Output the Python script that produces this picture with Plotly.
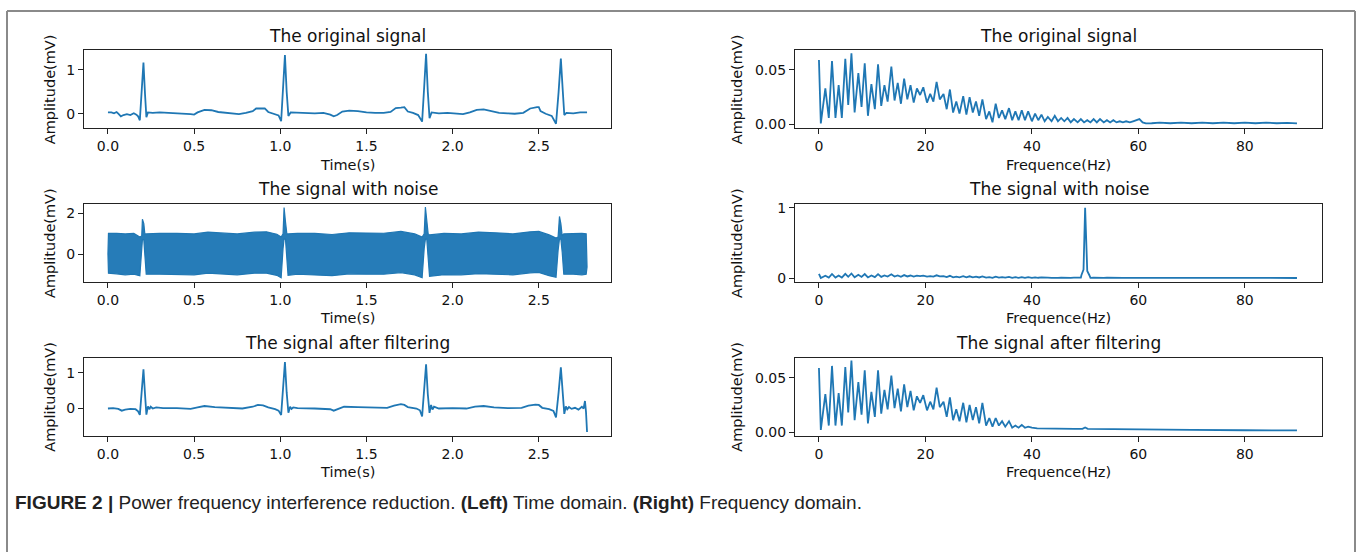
import plotly.graph_objects as go
import pandas as pd

W, H = 1362, 552
BLUE = "#1f77b4"
FONT = "DejaVu Sans"

# ---------------- time-domain data ----------------
orig_t = [0.000, 0.020, 0.035, 0.050, 0.060, 0.075, 0.090, 0.110, 0.130, 0.150, 0.165, 0.175, 0.185,
          0.195, 0.206, 0.215, 0.223, 0.232, 0.26, 0.30, 0.35, 0.40, 0.45, 0.48, 0.50, 0.52, 0.56,
          0.60, 0.64, 0.68, 0.72, 0.76, 0.80, 0.84, 0.86, 0.89, 0.91, 0.93, 0.96, 0.99, 1.005, 1.016,
          1.027, 1.037, 1.047, 1.06, 1.10, 1.15, 1.20, 1.25, 1.29, 1.31, 1.33, 1.36, 1.40, 1.45, 1.50,
          1.55, 1.60, 1.64, 1.67, 1.70, 1.72, 1.74, 1.77, 1.80, 1.823, 1.834, 1.846, 1.856, 1.866,
          1.878, 1.92, 1.97, 2.02, 2.06, 2.10, 2.14, 2.18, 2.22, 2.27, 2.32, 2.36, 2.41, 2.45, 2.49,
          2.50, 2.51, 2.54, 2.575, 2.600, 2.615, 2.628, 2.638, 2.648, 2.66, 2.70, 2.74, 2.78]
orig_v = [0.03, 0.03, 0.01, 0.04, 0.00, -0.06, -0.03, -0.01, -0.03, 0.01, -0.02, -0.06, -0.15,
          0.45, 1.17, 0.45, -0.08, 0.03, 0.02, 0.03, 0.02, 0.02, 0.01, -0.01, -0.02, 0.03, 0.09,
          0.08, 0.04, 0.02, 0.00, -0.01, 0.02, 0.06, 0.12, 0.11, 0.12, 0.04, 0.00, -0.04, -0.17, 0.55,
          1.34, 0.50, -0.05, 0.03, 0.02, 0.02, 0.01, 0.02, -0.02, -0.06, -0.03, 0.05, 0.07, 0.06, 0.03,
          0.02, 0.02, 0.04, 0.13, 0.14, 0.15, 0.05, 0.02, -0.03, -0.18, 0.55, 1.37, 0.50, -0.10,
          0.03, 0.01, 0.02, 0.00, -0.01, 0.03, 0.09, 0.10, 0.07, 0.02, 0.01, 0.00, 0.02, 0.12, 0.15,
          0.15, 0.06, 0.00, -0.05, -0.23, 0.50, 1.26, 0.60, -0.03, 0.02, 0.01, 0.03, 0.03]

filt_t = [0.00, 0.03, 0.06, 0.08, 0.10, 0.13, 0.16, 0.175, 0.185, 0.195, 0.206, 0.215, 0.223, 0.232,
          0.240, 0.248, 0.26, 0.28, 0.32, 0.40, 0.48, 0.52, 0.56, 0.62, 0.70, 0.78, 0.84, 0.87, 0.90,
          0.93, 0.97, 0.99, 1.005, 1.016, 1.027, 1.037, 1.047, 1.057, 1.065, 1.075, 1.10, 1.20, 1.29,
          1.31, 1.34, 1.37, 1.45, 1.55, 1.62, 1.66, 1.70, 1.72, 1.74, 1.79, 1.81, 1.823, 1.834, 1.846,
          1.856, 1.866, 1.875, 1.883, 1.892, 1.92, 2.00, 2.08, 2.13, 2.18, 2.24, 2.32, 2.40, 2.44,
          2.48, 2.50, 2.52, 2.56, 2.585, 2.600, 2.615, 2.628, 2.638, 2.648, 2.657, 2.665, 2.675, 2.69,
          2.71, 2.73, 2.75, 2.760, 2.768, 2.774, 2.780]
filt_v = [0.00, 0.01, -0.01, -0.06, -0.03, -0.01, -0.02, -0.08, -0.18, 0.35, 1.10, 0.40, -0.17, 0.06,
          -0.02, 0.05, 0.00, 0.03, 0.01, 0.01, -0.01, 0.03, 0.07, 0.04, 0.01, 0.00, 0.05, 0.10, 0.09,
          0.03, -0.02, -0.06, -0.18, 0.50, 1.30, 0.45, -0.12, 0.05, -0.01, 0.03, 0.01, 0.00, -0.02,
          -0.06, 0.00, 0.05, 0.04, 0.02, 0.02, 0.08, 0.12, 0.10, 0.04, 0.00, -0.05, -0.22, 0.50, 1.24,
          0.40, -0.12, 0.10, -0.03, 0.05, 0.00, 0.01, 0.00, 0.05, 0.07, 0.03, 0.01, 0.02, 0.08,
          0.11, 0.10, 0.02, -0.02, -0.07, -0.25, 0.45, 1.15, 0.50, -0.15, 0.06, -0.02, 0.04, -0.01,
          0.02, -0.03, 0.05, 0.00, 0.21, -0.10, -0.66]

# noisy signal: envelope of the dense 50 Hz oscillation band
noisy_t = [0.000, 0.003, 0.05, 0.10, 0.15, 0.185, 0.196, 0.200, 0.208, 0.214, 0.222, 0.30, 0.40, 0.50,
           0.58, 0.65, 0.75, 0.85, 0.92, 0.98, 1.005, 1.016, 1.022, 1.030, 1.038, 1.045, 1.10, 1.20,
           1.30, 1.40, 1.50, 1.60, 1.70, 1.78, 1.823, 1.835, 1.842, 1.850, 1.858, 1.866, 1.95, 2.05,
           2.15, 2.25, 2.35, 2.45, 2.50, 2.56, 2.60, 2.612, 2.620, 2.628, 2.636, 2.645, 2.70, 2.75,
           2.775, 2.78]
noisy_hi = [0.03, 1.02, 1.03, 1.00, 1.02, 0.85, 0.90, 1.71, 1.50, 1.00, 1.00, 1.03, 1.02, 1.00,
            1.08, 1.05, 1.00, 1.08, 1.10, 0.98, 0.85, 1.00, 2.27, 1.60, 1.00, 1.00, 1.02, 1.02,
            0.97, 1.05, 1.05, 1.03, 1.12, 1.00, 0.85, 1.00, 2.30, 1.60, 1.00, 0.95, 1.02, 1.00,
            1.08, 1.05, 1.00, 1.10, 1.12, 0.95, 0.80, 0.85, 1.84, 1.50, 0.90, 1.00, 1.02, 1.02,
            1.00, -0.60]
noisy_lo = [0.03, -0.90, -0.93, -0.98, -0.95, -1.02, 0.20, 0.72, 0.72, 0.10, -0.95, -0.95, -0.95, -0.98,
            -0.90, -0.95, -0.98, -0.90, -0.90, -1.00, -1.12, 0.30, 0.75, 0.75, 0.10, -1.00, -0.95, -0.97,
            -1.02, -0.93, -0.95, -0.95, -0.87, -0.98, -1.12, 0.30, 0.75, 0.75, 0.10, -1.05, -0.97, -0.98,
            -0.92, -0.95, -0.98, -0.88, -0.86, -1.02, -1.10, 0.20, 0.75, 0.75, 0.10, -0.95, -0.95, -0.98,
            -0.95, -0.60]

# ---------------- frequency-domain data ----------------
spec_f = [0.0, 0.35, 1.2, 1.85, 2.45, 3.1, 3.7, 4.3, 4.95, 5.5, 6.1, 6.7, 7.4, 8.0, 8.6, 9.2, 9.85,
          10.5, 11.1, 11.7, 12.3, 12.9, 13.6, 14.2, 14.8, 15.4, 16.0, 16.6, 17.2, 17.8, 18.4, 19.0,
          19.6, 20.3, 20.9, 21.5, 22.1, 22.7, 23.4, 24.0, 24.6, 25.2, 25.8, 26.4, 27.1, 27.7, 28.3,
          28.9, 29.5, 30.1, 30.7, 31.4, 32.0, 32.6, 33.2, 33.8, 34.4, 35.0, 35.7, 36.3, 36.9, 37.5,
          38.1, 38.7, 39.3, 40.0, 40.6, 41.2, 41.8, 42.4, 43.0, 43.7, 44.3, 44.9, 45.5, 46.1, 46.7,
          47.3, 47.9, 48.6, 49.2, 49.8, 50.4, 51.0, 51.6, 52.2, 52.8, 53.5, 54.1, 54.7, 55.3, 55.9,
          56.5, 57.1, 57.7, 58.4, 59.0, 59.6, 60.2, 60.8, 61.4, 62.5, 64.0, 66.0, 68.0, 70.0, 72.0,
          74.0, 76.0, 78.0, 80.0, 82.0, 84.0, 86.0, 88.0, 89.8]
spec_orig = [0.059, 0.001, 0.033, 0.006, 0.058, 0.006, 0.036, 0.006, 0.060, 0.018, 0.065, 0.011,
             0.047, 0.016, 0.056, 0.008, 0.037, 0.014, 0.055, 0.017, 0.036, 0.021, 0.053, 0.022,
             0.038, 0.019, 0.042, 0.023, 0.036, 0.020, 0.033, 0.027, 0.034, 0.020, 0.028, 0.021,
             0.039, 0.023, 0.028, 0.014, 0.032, 0.011, 0.021, 0.010, 0.026, 0.009, 0.025, 0.011,
             0.021, 0.008, 0.023, 0.005, 0.012, 0.002, 0.019, 0.006, 0.013, 0.005, 0.015, 0.004,
             0.012, 0.004, 0.013, 0.004, 0.012, 0.003, 0.010, 0.004, 0.009, 0.003, 0.007, 0.003,
             0.008, 0.003, 0.006, 0.003, 0.006, 0.002, 0.005, 0.002, 0.005, 0.002, 0.004, 0.002,
             0.005, 0.002, 0.005, 0.002, 0.004, 0.002, 0.004, 0.002, 0.003, 0.002, 0.003, 0.002,
             0.003, 0.004, 0.005, 0.002, 0.001, 0.0012, 0.0018, 0.0012, 0.0018, 0.0012, 0.0018,
             0.0012, 0.0018, 0.0012, 0.0018, 0.0012, 0.0018, 0.0012, 0.0016, 0.001]

filt_f = [0.0, 0.35, 1.2, 1.85, 2.45, 3.1, 3.7, 4.3, 4.95, 5.5, 6.1, 6.7, 7.4, 8.0, 8.6, 9.2, 9.85,
          10.5, 11.1, 11.7, 12.3, 12.9, 13.6, 14.2, 14.8, 15.4, 16.0, 16.6, 17.2, 17.8, 18.4, 19.0,
          19.6, 20.3, 20.9, 21.5, 22.1, 22.7, 23.4, 24.0, 24.6, 25.2, 25.8, 26.4, 27.1, 27.7, 28.3,
          28.9, 29.5, 30.1, 30.7, 31.4, 32.0, 32.6, 33.2, 33.8, 34.4, 35.0, 35.7, 36.3, 36.9, 37.5,
          38.1, 38.7, 39.3, 40.0, 41.0, 43.0, 45.0, 48.0, 49.5, 50.0, 50.5, 55.0, 60.0, 70.0, 80.0, 89.8]
spec_filt = [0.059, 0.002, 0.035, 0.006, 0.061, 0.006, 0.036, 0.006, 0.060, 0.018, 0.066, 0.011,
             0.046, 0.016, 0.057, 0.008, 0.037, 0.014, 0.057, 0.017, 0.039, 0.021, 0.052, 0.022,
             0.040, 0.019, 0.044, 0.023, 0.038, 0.020, 0.033, 0.027, 0.034, 0.020, 0.028, 0.021,
             0.041, 0.023, 0.028, 0.014, 0.032, 0.011, 0.021, 0.010, 0.027, 0.009, 0.025, 0.011,
             0.023, 0.008, 0.027, 0.006, 0.013, 0.005, 0.013, 0.006, 0.010, 0.005, 0.010, 0.004,
             0.006, 0.004, 0.0066, 0.004, 0.005, 0.004, 0.0035, 0.0032, 0.003, 0.003, 0.003, 0.0042,
             0.003, 0.0027, 0.0025, 0.002, 0.0017, 0.0015]

# 50 Hz interference line in the noisy spectrum
spike_f = [49.3, 49.7, 50.0, 50.4, 50.8]
spike_amp = [0.04, 0.12, 1.0, 0.10, 0.04]

time_ticks = [0.0, 0.5, 1.0, 1.5, 2.0, 2.5]
time_ticklabels = ["0.0", "0.5", "1.0", "1.5", "2.0", "2.5"]
freq_ticks = [0, 20, 40, 60, 80]

titles = ["The original signal", "The signal with noise", "The signal after filtering"]

# noisy spectrum table = original spectrum with the 50 Hz line
base = pd.DataFrame({"f": spec_f, "a": spec_orig})
base = base[(base.f < 49.3) | (base.f > 50.8)]
noisy_spec = pd.concat([base, pd.DataFrame({"f": spike_f, "a": spike_amp})]).sort_values("f")

# ---------------- layout geometry (pixels) ----------------
col_x = [(84, 611), (795, 1322)]
row_y = [(47, 126), (203, 282), (359, 438)]

def px(x):
    return x / W

def py(y):
    return 1 - y / H

fig = go.Figure()

LINE = dict(color=BLUE, width=1.8)

# axis numbering: left col rows 1..3 -> axes 1,2,3; right col -> 4,5,6
traces = [
    (1, orig_t, orig_v),
    (3, filt_t, filt_v),
    (4, spec_f, spec_orig),
    (5, list(noisy_spec.f), list(noisy_spec.a)),
    (6, filt_f, spec_filt),
]
for ax, xs, ys in traces:
    suf = "" if ax == 1 else str(ax)
    fig.add_trace(go.Scatter(x=xs, y=ys, mode="lines", line=LINE, xaxis="x" + suf, yaxis="y" + suf,
                             hoverinfo="skip", showlegend=False))

# noisy band
band_x = noisy_t + noisy_t[::-1]
band_y = noisy_hi + noisy_lo[::-1]
fig.add_trace(go.Scatter(x=band_x, y=band_y, mode="lines", fill="toself", fillcolor="rgb(38,124,184)",
                         line=dict(color=BLUE, width=1.2), xaxis="x2", yaxis="y2",
                         hoverinfo="skip", showlegend=False))

yranges = {1: [-0.33, 1.45], 2: [-1.32, 2.44], 3: [-0.76, 1.42],
           4: [-0.0033, 0.0678], 5: [-0.055, 1.052], 6: [-0.0033, 0.0685]}
yticks = {1: ([0, 1], ["0", "1"]), 2: ([0, 2], ["0", "2"]), 3: ([0, 1], ["0", "1"]),
          4: ([0, 0.05], ["0.00", "0.05"]), 5: ([0, 1], ["0", "1"]), 6: ([0, 0.05], ["0.00", "0.05"])}

TICKFONT = dict(family=FONT, size=14, color="#111")
common = dict(showline=True, mirror=True, linecolor="#222", linewidth=1.2, ticks="outside",
              ticklen=5, tickwidth=1.2, tickcolor="#222", showgrid=False, zeroline=False,
              tickfont=TICKFONT, fixedrange=True)

annotations = []
for ax in range(1, 7):
    col = 0 if ax <= 3 else 1
    row = (ax - 1) % 3
    x0, x1 = col_x[col]
    y0, y1 = row_y[row]
    suf = "" if ax == 1 else str(ax)
    xa = dict(common, domain=[px(x0), px(x1)], anchor="y" + suf)
    if col == 0:
        xa.update(range=[-0.139, 2.919], tickvals=time_ticks, ticktext=time_ticklabels)
    else:
        xa.update(range=[-4.5, 94.5], tickvals=freq_ticks)
    ya = dict(common, domain=[py(y1), py(y0)], anchor="x" + suf, range=yranges[ax],
              tickvals=yticks[ax][0], ticktext=yticks[ax][1])
    fig.layout["xaxis" + suf] = xa
    fig.layout["yaxis" + suf] = ya

    cx = (x0 + x1) / 2
    annotations.append(dict(text=titles[row], x=px(cx), y=py(y0 - 15), xref="paper", yref="paper",
                            showarrow=False, xanchor="center", yanchor="middle",
                            font=dict(family=FONT, size=17, color="#111")))
    annotations.append(dict(text="Time(s)" if col == 0 else "Frequence(Hz)", x=px(cx), y=py(y1 + 37),
                            xref="paper", yref="paper", showarrow=False, xanchor="center",
                            yanchor="middle", font=dict(family=FONT, size=14.5, color="#111")))
    annotations.append(dict(text="Amplitude(mV)", x=px(50 if col == 0 else 737), y=py((y0 + y1) / 2),
                            xref="paper", yref="paper", showarrow=False, textangle=-90,
                            xanchor="center", yanchor="middle",
                            font=dict(family=FONT, size=14.5, color="#111")))

annotations.append(dict(
    text="<b>FIGURE 2 |</b> Power frequency interference reduction. <b>(Left)</b> Time domain. "
         "<b>(Right)</b> Frequency domain.",
    x=px(13), y=py(506), xref="paper", yref="paper", showarrow=False, xanchor="left",
    yanchor="middle", font=dict(family="Liberation Sans Narrow, Arial Narrow, sans-serif", size=19,
                                color="#222")))

shapes = [
    dict(type="line", xref="paper", yref="paper", x0=px(7), x1=px(7), y0=py(7), y1=py(560),
         line=dict(color="#8a8a8a", width=2)),
    dict(type="line", xref="paper", yref="paper", x0=px(7), x1=px(1355), y0=py(7), y1=py(7),
         line=dict(color="#8a8a8a", width=2)),
    dict(type="line", xref="paper", yref="paper", x0=px(1355), x1=px(1355), y0=py(7), y1=py(560),
         line=dict(color="#8a8a8a", width=2)),
]

fig.update_layout(width=W, height=H, autosize=False, margin=dict(l=0, r=0, t=0, b=0, pad=0),
                  paper_bgcolor="white", plot_bgcolor="white", annotations=annotations,
                  shapes=shapes, showlegend=False)

fig.write_html("out.html", config={"displayModeBar": False},
               post_script="document.body.style.margin='0';document.body.style.overflow='hidden';")
